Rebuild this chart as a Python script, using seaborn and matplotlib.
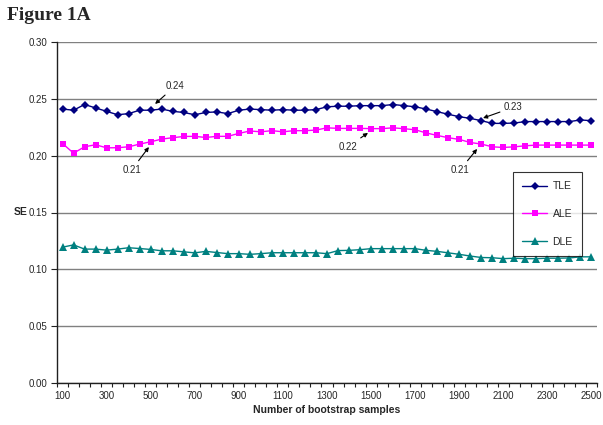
import matplotlib
matplotlib.use("Agg")
import matplotlib.pyplot as plt
import seaborn as sns
import pandas as pd

# ---------------- data ----------------
samples = [100, 150, 200, 250, 300, 350, 400, 450, 500, 550,
           600, 650, 700, 750, 800, 850, 900, 950, 1000, 1050,
           1100, 1150, 1200, 1250, 1300, 1350, 1400, 1450, 1500, 1550,
           1600, 1650, 1700, 1750, 1800, 1850, 1900, 1950, 2000, 2050,
           2100, 2150, 2200, 2250, 2300, 2350, 2400, 2450, 2500]

tle = [0.241, 0.240, 0.245, 0.242, 0.239, 0.236, 0.237, 0.240, 0.240, 0.241,
       0.239, 0.238, 0.236, 0.238, 0.2385, 0.237, 0.240, 0.241, 0.2405, 0.240,
       0.2405, 0.240, 0.240, 0.2405, 0.243, 0.2435, 0.2435, 0.244, 0.244, 0.244,
       0.245, 0.244, 0.243, 0.241, 0.2387, 0.2364, 0.2343, 0.2328, 0.2308, 0.2284,
       0.2284, 0.2287, 0.230, 0.230, 0.230, 0.230, 0.230, 0.2314, 0.2308]

ale = [0.2107, 0.2022, 0.2078, 0.2096, 0.2069, 0.207, 0.2078, 0.2102, 0.2122, 0.2146,
       0.2158, 0.2169, 0.217, 0.216, 0.217, 0.217, 0.2196, 0.2217, 0.221, 0.222,
       0.221, 0.222, 0.222, 0.2225, 0.2245, 0.224, 0.224, 0.224, 0.2238, 0.2238,
       0.2245, 0.2237, 0.2228, 0.220, 0.2178, 0.2158, 0.2143, 0.2116, 0.2102, 0.2078,
       0.2072, 0.2078, 0.2087, 0.2093, 0.2093, 0.2093, 0.2093, 0.2093, 0.2093]

dle = [0.1195, 0.1215, 0.1178, 0.1178, 0.1169, 0.1178, 0.1190, 0.1183, 0.1175, 0.1163,
       0.1163, 0.1154, 0.1145, 0.1158, 0.1148, 0.1138, 0.1138, 0.1132, 0.1138, 0.1146,
       0.1146, 0.1146, 0.1146, 0.1146, 0.1138, 0.1165, 0.1167, 0.1173, 0.1182, 0.1182,
       0.1182, 0.1182, 0.1182, 0.1167, 0.1158, 0.1145, 0.1132, 0.1117, 0.1104, 0.1102,
       0.1094, 0.1098, 0.1094, 0.1094, 0.1098, 0.1098, 0.1100, 0.1110, 0.1110]

series_names = ["TLE", "ALE", "DLE"]
xtick_values = [100, 300, 500, 700, 900, 1100, 1300, 1500, 1700, 1900, 2100, 2300, 2500]
ytick_values = [0.00, 0.05, 0.10, 0.15, 0.20, 0.25, 0.30]

# annotations: (label, point xy, text xy)
annotations = [
    ("0.24", (520, 0.2455), (610, 0.2610)),
    ("0.21", (492, 0.2076), (415, 0.1878)),
    ("0.22", (1486, 0.2200), (1395, 0.2080)),
    ("0.23", (2008, 0.2331), (2145, 0.2425)),
    ("0.21", (1981, 0.2059), (1905, 0.1878)),
]

# ---------------- styling ----------------
sns.set_theme(style="white")
plt.rcParams['font.family'] = ['Liberation Sans', 'DejaVu Sans']

df = pd.DataFrame({
    "samples": samples * 3,
    "SE": tle + ale + dle,
    "series": ["TLE"] * len(tle) + ["ALE"] * len(ale) + ["DLE"] * len(dle),
})

colors = {"TLE": "#000080", "ALE": "#FF00FF", "DLE": "#008080"}
markers = {"TLE": "D", "ALE": "s", "DLE": "^"}
msizes = {"TLE": 3.8, "ALE": 5.0, "DLE": 5.2}

fig = plt.figure(figsize=(6.03, 4.25), dpi=100)
ax = fig.add_axes([57 / 603, 42 / 425, 540 / 603, 341 / 425])

for name in series_names:
    sub = df[df["series"] == name]
    sns.lineplot(data=sub, x="samples", y="SE", ax=ax, color=colors[name],
                 marker=markers[name], markersize=msizes[name],
                 markeredgewidth=0, linewidth=1.0, label=name)

ax.set_xlim(75, 2525)
ax.set_ylim(0, 0.30)

ax.set_yticks(ytick_values)
ax.set_yticklabels([f"{v:.2f}" for v in ytick_values])
ax.set_xticks(xtick_values)
ax.set_xticklabels([str(v) for v in xtick_values])
ax.set_xticks([s - 25 for s in samples] + [samples[-1] + 25], minor=True)

ax.yaxis.grid(True, color="#808080", linewidth=1.0)
ax.xaxis.grid(False)
ax.set_axisbelow(True)

for side in ["top", "right"]:
    ax.spines[side].set_visible(False)
for side in ["left", "bottom"]:
    ax.spines[side].set_color("#202020")
    ax.spines[side].set_linewidth(1.0)

ax.tick_params(axis="y", which="major", left=True, length=4, width=0.8,
               color="#202020", labelsize=7, pad=3, direction="out")
ax.tick_params(axis="x", which="major", bottom=True, length=0, labelsize=7, pad=6)
ax.tick_params(axis="x", which="minor", bottom=True, length=3, width=0.8,
               color="#202020", direction="out")

ax.set_xlabel("Number of bootstrap samples", fontsize=7.5, fontweight="bold")
ax.xaxis.set_label_coords(0.5, -(405 - 383) / 341)
ax.xaxis.label.set_va("top")
ax.set_ylabel("SE", fontsize=7.5, fontweight="bold", rotation=0, ha="center", va="center")
ax.yaxis.set_label_coords(-(57 - 21) / 540, (383 - 212) / 341)

for label, xy, xytext in annotations:
    ax.annotate(label, xy=xy, xytext=xytext, ha="center", va="center", fontsize=7,
                arrowprops=dict(arrowstyle="-|>", color="black", lw=0.8,
                                mutation_scale=6, shrinkA=0.5, shrinkB=0))

leg = ax.legend(loc="upper right", bbox_to_anchor=((582 - 57) / 540, (383 - 172) / 341),
                frameon=True, fancybox=False, edgecolor="black", fontsize=7.5,
                labelspacing=1.7, handlelength=2.4, borderpad=0.9, handletextpad=0.5,
                borderaxespad=0)
leg.get_frame().set_linewidth(0.8)

fig.text(7 / 603, 1 - 16 / 425, "Figure 1A", family="Liberation Serif",
         fontweight="bold", fontsize=14, va="center", ha="left")

fig.savefig("out.png", dpi=100)
